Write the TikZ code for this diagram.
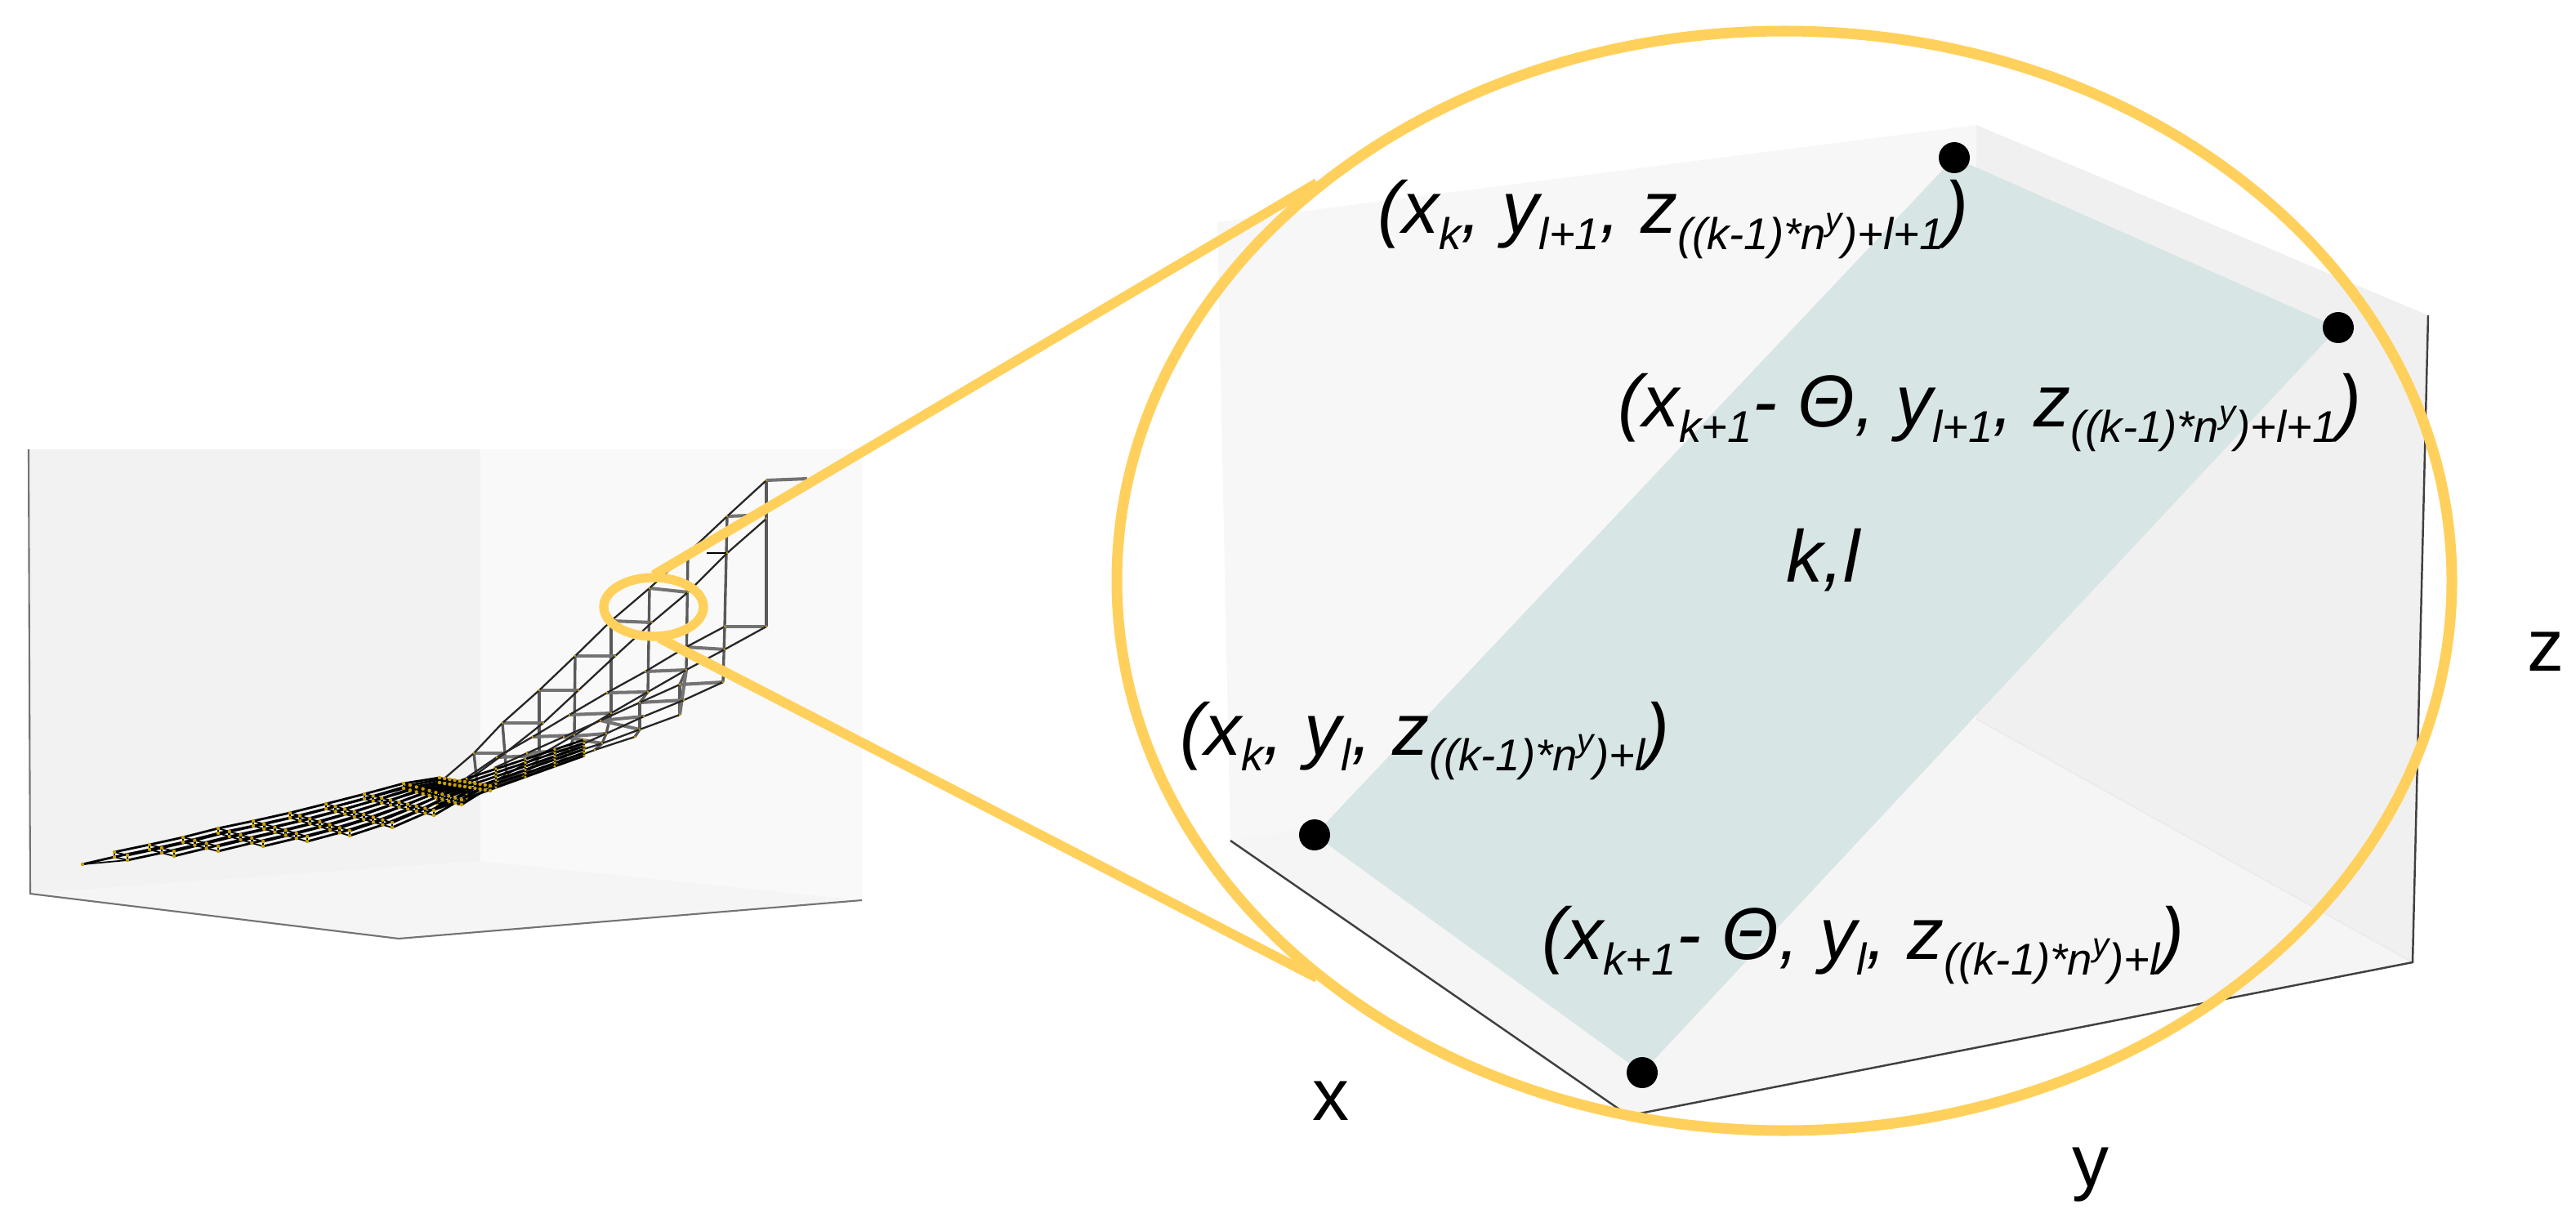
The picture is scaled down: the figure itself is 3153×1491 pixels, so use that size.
\documentclass[tikz,border=0pt]{standalone}
\usepackage{fontspec}
\setmainfont{Liberation Sans}
\usetikzlibrary{shapes.geometric}
\definecolor{ringcol}{HTML}{FFD05B}
\definecolor{planecol}{HTML}{D7E6E5}
\definecolor{dotcol}{HTML}{C9A000}
\newcommand\defrow[2]{\foreach[count=\i from 0] \xx/\yy in {#2}{\coordinate (#1\i) at (\xx,\yy);}}
\newcommand\drawrow[2]{\foreach \n in {1,...,#2}{\pgfmathtruncatemacro\m{\n-1}\draw[rowline] (#1\m)--(#1\n);}\foreach \n in {0,...,#2}{\fill[gridpt] (#1\n) circle (1.3);}}
\newcommand\lsub[1]{\raisebox{-0.22em}{\fontsize{15.5}{18}\selectfont #1}}
\newcommand\nup{\raisebox{0.42em}{\fontsize{11.5}{14}\selectfont y}}
\newcommand\zsubA{((k-1)*n\nup)+l+1}
\newcommand\zsubB{((k-1)*n\nup)+l}
\tikzset{
  wallA/.style={fill=#1,draw=none},
  axisline/.style={draw=black!75,line width=0.7pt},
  rowline/.style={draw=black!85,line width=0.65pt},
  colline/.style={draw=black!65,line width=0.95pt},
  barline/.style={draw=black!55,line width=1.15pt},
  latline/.style={draw=black,line width=0.5pt},
  latrow/.style={draw=black,line width=0.8pt},
  gridpt/.style={fill=dotcol,draw=none},
  ring/.style={draw=ringcol,ellipse,inner sep=0pt,fill=none},
  link/.style={draw=ringcol,line width=3.4pt},
  vertexdot/.style={circle,fill=black,inner sep=0pt,minimum size=38*0.01cm},
  lab/.style={anchor=base west,inner sep=0pt,font=\fontsize{25.6}{30}\selectfont\itshape},
  axlab/.style={anchor=base west,inner sep=0pt,font=\fontsize{25.6}{30}\selectfont},
}
\begin{document}
\begin{tikzpicture}[x=0.01cm,y=-0.01cm]
\useasboundingbox (0,0) rectangle (3153,1491);
% small box
\fill[wallA=black!5] (35,550)--(588,550)--(588,1054)--(37,1094)--cycle;
\fill[wallA=black!2.5] (588,550)--(1055,550)--(1055,1102)--(588,1054)--cycle;
\fill[wallA=black!4] (37,1094)--(588,1054)--(1055,1102)--(488,1149)--cycle;
\coordinate (sa) at (35,550);\coordinate (sb) at (37,1094);\coordinate (sc) at (488,1149);\coordinate (sd) at (1055,1102);
\draw[draw=black!55,line width=0.6pt] (sa)--(sb)--(sc)--(sd);
% upper rows of the mesh
\defrow{T}{938/588,890/632,842/677,795/720,748/760,704/803,660/845,615/885,580/922,538/958}
\defrow{B}{938/635,890/677,842/725,798/762,753/803,708/845,665/885,618/922,580/950,548/975}
\defrow{C}{938/767,887/795,840/820,793/847,748/873,703/900,660/925,620/948,585/968}
\defrow{D}{887/767,840/792,790/822,743/848,697/875,652/902,608/927,570/953}
\defrow{E}{885/835,837/857,788/877,742/898,697/918,655/937,615/955,580/970}
\defrow{F}{832/838,783/860,735/882,690/902,645/922,605/940}
\defrow{G}{832/875,783/893,737/910,695/923,650/940,610/957}
\defrow{H}{777/902,728/918,682/935,640/950,600/965,560/985}
\coordinate (Te) at (988,586);\coordinate (Tf) at (917,631);\coordinate (Tg) at (865,677);
% pillars
\foreach \a/\b in {T0/C0,T1/D0,D0/E0,T2/C2,C2/F0,F0/G0,T3/C3,C3/F1,F1/G1,G1/H0,T4/C4,C4/E3,E3/G2,G2/H1,T5/C5,C5/E4,E4/G3,G3/H2,T6/C6,C6/E5,E5/G4,G4/H3,T7/C7,C7/E6,E6/H4,T8/C8,C8/H5}{\draw[colline] (\a)--(\b);}
% cross bars
\foreach \a/\b in {T0/Te,T1/Tf,T3/B2,T4/B3,T5/B4,T6/B5,T7/B6,T8/B7,C0/D0,C1/D1,C2/D2,C3/D3,C4/D4,C5/D5,C6/D6,E0/F0,E1/F1,E2/F2,E3/F3,E4/F4,G0/C2,G1/F2,G2/F3}{\draw[barline] (\a)--(\b);}
\draw[draw=black,line width=0.6pt] (Tg)--(B1);
\drawrow{T}{9}\drawrow{B}{9}\drawrow{C}{8}\drawrow{D}{7}\drawrow{E}{7}\drawrow{F}{5}\drawrow{G}{5}\drawrow{H}{5}
% dense mid block
\foreach \u in {0,...,5}{\foreach \v in {0,...,5}{
  \pgfmathsetmacro\mx{535+36*\u}
  \pgfmathsetmacro\mt{965-0.33*(\mx-535)}
  \pgfmathsetmacro\mb{990-0.36*(\mx-535)}
  \pgfmathsetmacro\my{\mt+(\mb-\mt)*\v/5}
  \coordinate (M\u-\v) at (\mx,\my);
}}
\foreach \u in {0,...,5}{\foreach \v in {0,...,4}{\pgfmathtruncatemacro\w{\v+1}\draw[latline] (M\u-\v)--(M\u-\w);}}
\foreach \u in {0,...,4}{\foreach \v in {0,...,5}{\pgfmathtruncatemacro\w{\u+1}\draw[latrow] (M\u-\v)--(M\w-\v);}}
\foreach \u in {0,...,5}{\foreach \v in {0,...,5}{\fill[gridpt] (M\u-\v) circle (1.8);}}
% lower triangular lattice, each level drawn twice with a small rise
\coordinate (tip) at (101,1058);
\foreach \i in {1,...,10}{\foreach \j in {0,...,\i}{
  \pgfmathsetmacro\bx{{101,140,183,224,267,310,355,399,446,494,538}[\i]}
  \pgfmathsetmacro\by{{1058,1049,1040,1031,1020,1011,1001,990,978,965,958}[\i]}
  \pgfmathsetmacro\fx{{101,156,213,267,322,376,428,480,531,565,600}[\i]}
  \pgfmathsetmacro\fy{{1058,1053,1048,1042,1036,1030,1023,1013,998,985,968}[\i]}
  \pgfmathsetmacro\px{\bx+(\fx-\bx)*\j/\i}
  \pgfmathsetmacro\py{\by+(\fy-\by)*\j/\i}
  \coordinate (L\i-\j) at (\px,\py);
  \pgfmathsetmacro\qy{\py-6}
  \coordinate (U\i-\j) at (\px,\qy);
}}
\draw[latrow] (tip)--(L1-0);
\draw[latline] (tip)--(L1-1);
\foreach \i in {1,...,10}{\foreach \j in {0,...,\i}{
  \draw[latrow] (L\i-\j)--(U\i-\j);
  \ifnum\j<\i\relax\pgfmathtruncatemacro\w{\j+1}
    \draw[latline] (L\i-\j)--(L\i-\w);
    \draw[latline] (U\i-\j)--(U\i-\w);
  \fi
  \ifnum\i<10\relax\pgfmathtruncatemacro\w{\i+1}
    \draw[latrow] (L\i-\j)--(L\w-\j);
    \draw[latrow] (U\i-\j)--(U\w-\j);
  \fi
}}
\foreach \i in {1,...,10}{\foreach \j in {0,...,\i}{
  \fill[gridpt] (L\i-\j) circle (2.2);
  \fill[gridpt] (U\i-\j) circle (2.2);
}}
\fill[gridpt] (tip) circle (2.2);
% big box
\fill[wallA=black!3] (1490,272)--(2419,153)--(2419,880)--(1506,1029)--cycle;
\fill[wallA=black!6] (2419,153)--(2972,386)--(2953,1178)--(2419,880)--cycle;
\fill[wallA=black!4] (1506,1029)--(2419,880)--(2953,1178)--(2007,1363)--(1985,1360)--cycle;
\draw[draw=black!8,line width=0.5pt] (2419,880)--(2953,1178);
\coordinate (ba) at (1506,1029);\coordinate (bb) at (1985,1360);\coordinate (bc) at (2007,1363);\coordinate (bd) at (2953,1178);\coordinate (be) at (2972,386);
\draw[axisline] (ba)--(bb) (bc)--(bd)--(be);
% plane and vertices
\coordinate (q1) at (2392,193);\coordinate (q2) at (2862,401);\coordinate (q3) at (1609,1022);\coordinate (q4) at (2010,1313);
\fill[planecol] (q1)--(q2)--(q4)--(q3)--cycle;
\node[vertexdot] (p1) at (q1) {};\node[vertexdot] (p2) at (q2) {};\node[vertexdot] (p3) at (q3) {};\node[vertexdot] (p4) at (q4) {};
% rings and links
\node[ring,line width=3.2pt,minimum width=122*0.01cm,minimum height=72*0.01cm] (small) at (800,743) {};
\node[ring,line width=3.7pt,minimum width=1634*0.01cm,minimum height=1346*0.01cm] (big) at (2184,711) {};
\coordinate (su) at (800,704);\coordinate (bu) at (1612,224);
\coordinate (sl) at (807,781);\coordinate (bl) at (1612,1197);
\draw[link] (su)--(bu);
\draw[link] (sl)--(bl);
% labels
\node[lab] (l1) at (1686,286) {(x\lsub{k}, y\lsub{l+1}, z\lsub{\zsubA})};
\node[lab] (l2) at (1980,522) {(x\lsub{k+1}- Θ, y\lsub{l+1}, z\lsub{\zsubA})};
\node[lab] (l3) at (1444,924) {(x\lsub{k}, y\lsub{l}, z\lsub{\zsubB})};
\node[lab] (l4) at (1887,1174) {(x\lsub{k+1}- Θ, y\lsub{l}, z\lsub{\zsubB})};
\node[lab] (kl) at (2186,712) {k,l};
\node[axlab] (xl) at (1606,1371) {x};
\node[axlab] (yl) at (2536,1452) {y};
\node[axlab] (zl) at (3093,821) {z};
\end{tikzpicture}
\end{document}
